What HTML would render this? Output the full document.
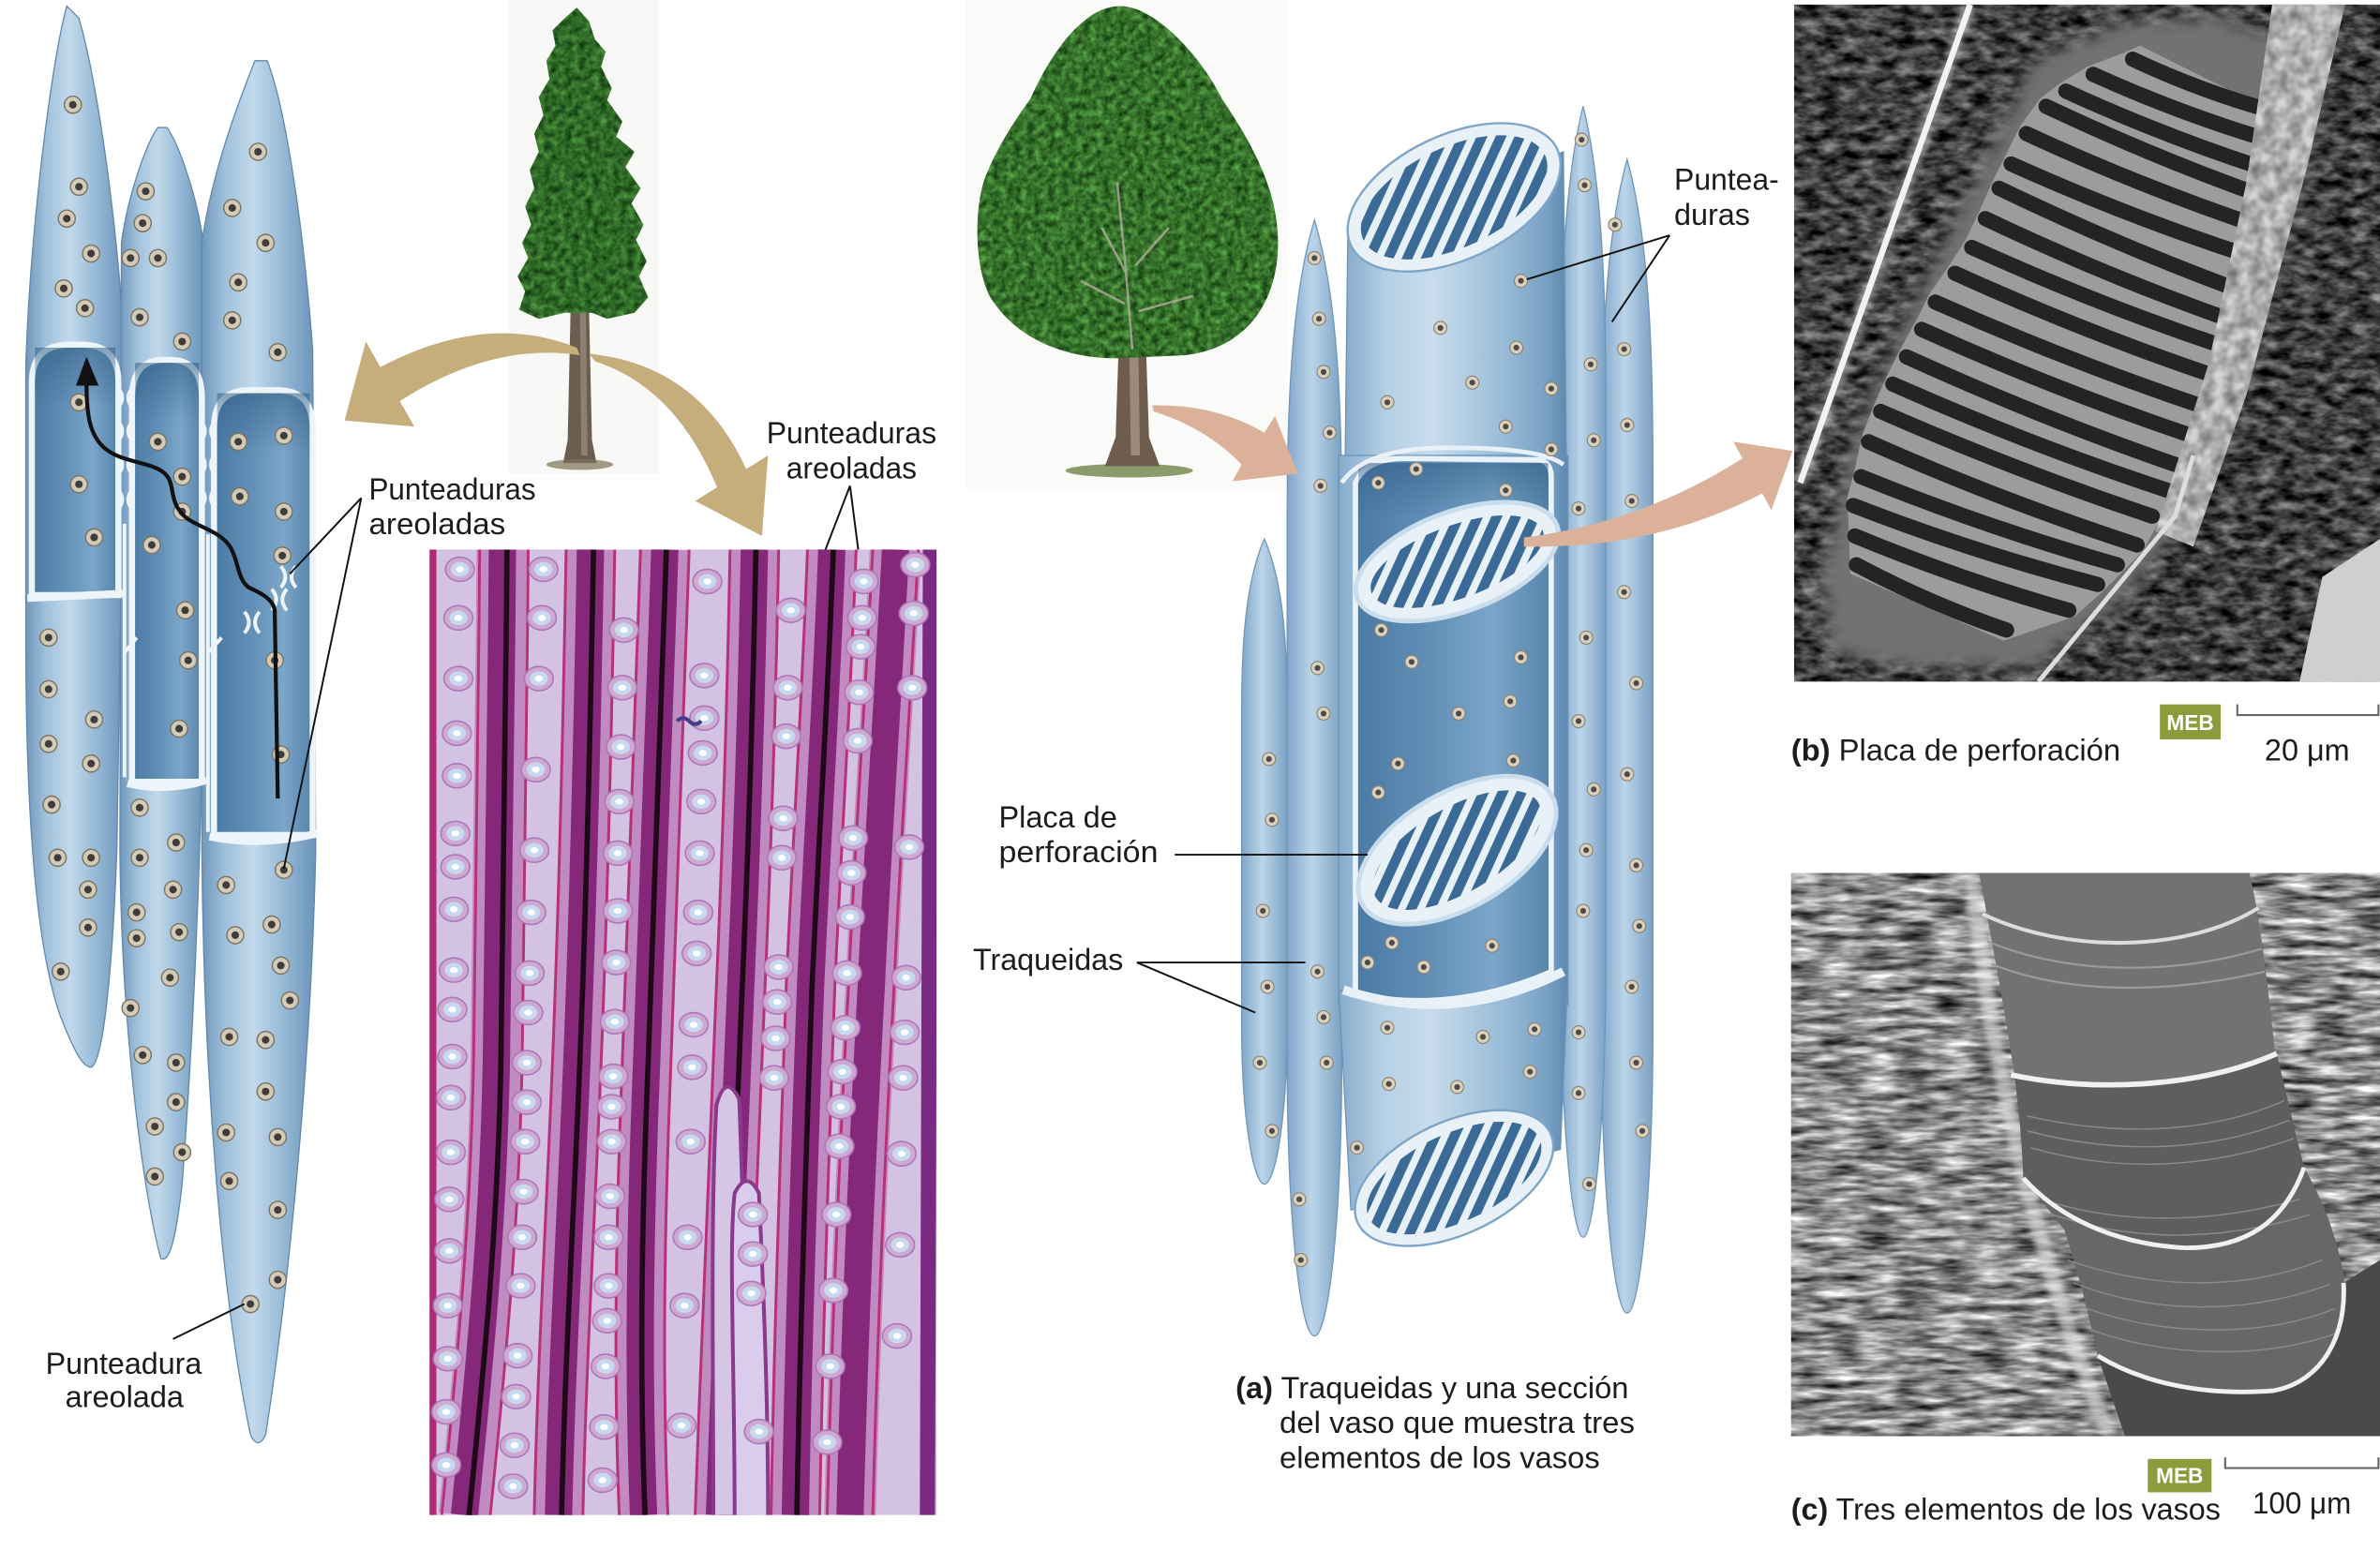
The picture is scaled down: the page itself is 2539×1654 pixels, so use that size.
<!DOCTYPE html>
<html><head><meta charset="utf-8"><title>Traqueidas y elementos de los vasos</title>
<style>html,body{margin:0;padding:0;background:#fff}svg{display:block}text{font-family:"Liberation Sans",Arial,sans-serif;fill:#1c1c1c}</style></head>
<body>
<svg xmlns="http://www.w3.org/2000/svg" width="2539" height="1654" viewBox="0 0 1568 1021" preserveAspectRatio="none">
<defs>
<linearGradient id="cellG" x1="0" x2="1" y1="0" y2="0"><stop offset="0" stop-color="#6f96bb"/><stop offset=".2" stop-color="#9fc0da"/><stop offset=".45" stop-color="#c2d9eb"/><stop offset=".7" stop-color="#98bbd7"/><stop offset="1" stop-color="#6a93b9"/></linearGradient>
<linearGradient id="winG" x1="0" x2="1" y1="0" y2="0"><stop offset="0" stop-color="#4a7aa3"/><stop offset=".35" stop-color="#5f8db5"/><stop offset=".7" stop-color="#7ba6c9"/><stop offset="1" stop-color="#5683ab"/></linearGradient>
<linearGradient id="tubeG" x1="0" x2="1" y1="0" y2="0"><stop offset="0" stop-color="#86abcb"/><stop offset=".18" stop-color="#b4cfe4"/><stop offset=".4" stop-color="#c8dcec"/><stop offset=".7" stop-color="#9bbdd8"/><stop offset=".9" stop-color="#7aa2c5"/><stop offset="1" stop-color="#5e89b0"/></linearGradient>
<linearGradient id="trG" x1="0" x2="1" y1="0" y2="0"><stop offset="0" stop-color="#80a6c8"/><stop offset=".45" stop-color="#bcd5e9"/><stop offset="1" stop-color="#7aa1c4"/></linearGradient>
<linearGradient id="shadeV" x1="0" x2="0" y1="0" y2="1"><stop offset="0" stop-color="#2d5a82" stop-opacity=".55"/><stop offset="1" stop-color="#2d5a82" stop-opacity="0"/></linearGradient>
<filter id="leafTex" color-interpolation-filters="sRGB"><feTurbulence type="fractalNoise" baseFrequency="0.22" numOctaves="3" seed="4"/><feColorMatrix type="matrix" values="0.55 0 0 0 -0.04  0.85 0 0 0 0.04  0.45 0 0 0 -0.04  0 0 0 0 1"/></filter>
<filter id="semTex" color-interpolation-filters="sRGB"><feTurbulence type="fractalNoise" baseFrequency="0.08 0.16" numOctaves="3" seed="7"/><feColorMatrix type="matrix" values="0.9 0 0 0 -0.2  0.9 0 0 0 -0.2  0.9 0 0 0 -0.2  0 0 0 0 1"/></filter>
<filter id="semTexL" color-interpolation-filters="sRGB"><feTurbulence type="fractalNoise" baseFrequency="0.12" numOctaves="2" seed="9" result="t"/><feColorMatrix in="t" type="matrix" values="1.2 0 0 0 0.1  1.2 0 0 0 0.1  1.2 0 0 0 0.1  0 0 0 0 1" result="g"/><feComposite in="g" in2="SourceGraphic" operator="in"/></filter>
<filter id="semTexC" color-interpolation-filters="sRGB"><feTurbulence type="fractalNoise" baseFrequency="0.04 0.2" numOctaves="3" seed="11"/><feColorMatrix type="matrix" values="1.3 0 0 0 -0.1  1.3 0 0 0 -0.1  1.3 0 0 0 -0.1  0 0 0 0 1"/></filter>
<filter id="blur6" x="-20%" y="-20%" width="140%" height="140%"><feGaussianBlur stdDeviation="6"/></filter>
<filter id="blur2" x="-20%" y="-20%" width="140%" height="140%"><feGaussianBlur stdDeviation="2"/></filter>
<clipPath id="clipM"><rect x="283" y="362" width="334" height="636"/></clipPath>
<clipPath id="clipB"><rect x="1182" y="3" width="386" height="446"/></clipPath>
<clipPath id="clipC"><rect x="1180" y="575" width="388" height="371"/></clipPath>
<clipPath id="clipCrown">
<path d="M738,4 C760,4 790,35 805,65 C825,95 842,125 842,160 C842,200 820,230 780,234 L735,236 C700,236 668,222 652,195 C642,175 642,140 648,120 C655,100 668,80 679,65 C690,40 712,4 738,4 Z"/>
</clipPath>
<clipPath id="clipCon"><path d="M380,5 L388,14 L392,26 L399,34 L396,44 L403,58 L400,66 L410,80 L406,90 L418,100 L412,110 L422,124 L416,134 L424,148 L419,158 L426,172 L421,182 L427,196 L418,206 L400,210 L390,206 L372,206 L355,210 L342,204 L346,192 L341,182 L348,170 L344,160 L350,148 L346,136 L352,124 L349,112 L355,100 L352,88 L358,76 L355,64 L362,52 L360,40 L366,30 L364,20 L372,12 Z"/></clipPath>
<clipPath id="c1"><ellipse rx="66" ry="33" transform="rotate(-25)"/></clipPath>
<clipPath id="c2"><ellipse rx="60" ry="24" transform="rotate(-20)"/></clipPath>
<clipPath id="c3"><ellipse rx="62" ry="28" transform="rotate(-30)"/></clipPath>
<clipPath id="c4"><ellipse rx="62" ry="29" transform="rotate(-25)"/></clipPath>
<g id="pit"><circle r="4.3" fill="#d9d1c0" stroke="#8c826f" stroke-width=".7"/><circle r="1.9" fill="#4e4a46"/></g>
<g id="pitL"><circle r="5.6" fill="#d3cbb9" stroke="#7d7462" stroke-width=".9"/><circle r="2.5" fill="#403c38"/></g>
<g id="mp"><ellipse rx="9.5" ry="8" fill="#cfa9d2" stroke="#a979b8" stroke-width="1"/><ellipse rx="6" ry="4.8" fill="#c6d9ee"/><ellipse rx="2.6" ry="2" fill="#ffffff"/></g>
<g id="slots" stroke="#3a6a95" stroke-width="6.5" stroke-linecap="round">
<line x1="-109.5" y1="48" x2="-65.5" y2="-48"/><line x1="-97" y1="48" x2="-53" y2="-48"/><line x1="-84.5" y1="48" x2="-40.5" y2="-48"/><line x1="-72" y1="48" x2="-28" y2="-48"/><line x1="-59.5" y1="48" x2="-15.5" y2="-48"/><line x1="-47" y1="48" x2="-3" y2="-48"/><line x1="-34.5" y1="48" x2="9.5" y2="-48"/><line x1="-22" y1="48" x2="22" y2="-48"/><line x1="-9.5" y1="48" x2="34.5" y2="-48"/><line x1="3" y1="48" x2="47" y2="-48"/><line x1="15.5" y1="48" x2="59.5" y2="-48"/><line x1="28" y1="48" x2="72" y2="-48"/><line x1="40.5" y1="48" x2="84.5" y2="-48"/><line x1="53" y1="48" x2="97" y2="-48"/><line x1="65.5" y1="48" x2="109.5" y2="-48"/>
</g>
<g id="bow" fill="none" stroke="#eef5fa" stroke-width="2.4"><path d="M-5,-7 Q1,0 -5,7 M5,-7 Q-1,0 5,7"/></g>
</defs>

<rect width="1568" height="1021" fill="#fff"/>

<!-- ================= LEFT TRACHEIDS ================= -->
<g stroke="#5f88ae" stroke-width=".8">
<path fill="url(#cellG)" d="M44,4 C34,40 20,150 17,240 L17,420 C17,520 22,620 40,670 C48,690 54,703 60,703 C68,700 74,640 77,560 L82,240 C80,170 66,60 52,12 Z"/>
<path fill="url(#cellG)" d="M104,84 C96,95 84,130 80,160 L79,560 C80,680 95,790 106,829 C112,832 116,815 120,780 C126,700 131,600 133,500 L134,160 C130,130 118,95 110,84 Z"/>
<path fill="url(#cellG)" d="M168,40 C160,60 140,110 133,160 L133,560 C134,700 145,850 165,945 C168,952 172,952 175,945 C190,850 205,700 208,560 L206,230 C200,150 188,70 176,40 Z"/>
</g>
<g fill="url(#winG)" stroke="#eef5fa" stroke-width="4">
<path d="M21,392 L21,252 Q21,227 46,227 L54,227 Q78,227 78,252 L78,392 Z"/>
<path d="M87,515 L87,262 Q87,237 108,237 L112,237 Q133,237 133,262 L133,515 Z"/>
<path d="M141,550 L141,282 Q141,257 164,257 L183,257 Q206,257 206,282 L206,550 Z"/>
</g>
<g fill="url(#shadeV)"><rect x="23" y="229" width="53" height="40"/><rect x="89" y="239" width="42" height="40"/><rect x="143" y="259" width="61" height="40"/></g>
<g stroke="#eef5fa" stroke-width="5" fill="none"><path d="M18,394 L81,391"/><path d="M84,516 Q110,522 136,514"/><path d="M138,551 Q172,558 209,549"/></g>
<g stroke="#eef5fa" stroke-width="2.4" fill="none"><path d="M82,345 L82,512"/><path d="M137,352 L137,548"/><path d="M137,430 L146,420"/><path d="M82,430 L90,420"/></g>
<use href="#bow" x="82.5" y="262"/><use href="#bow" x="82.5" y="284"/><use href="#bow" x="82.5" y="306"/><use href="#bow" x="82.5" y="329"/>
<use href="#bow" x="137" y="284"/><use href="#bow" x="137" y="306"/><use href="#bow" x="137" y="328"/>
<use href="#bow" x="190" y="380"/><use href="#bow" x="184" y="395"/><use href="#bow" x="166" y="410"/>
<g>
<use href="#pitL" x="48" y="69"/><use href="#pitL" x="52" y="123"/><use href="#pitL" x="44" y="144"/><use href="#pitL" x="60" y="167"/><use href="#pitL" x="42" y="190"/><use href="#pitL" x="56" y="203"/><use href="#pitL" x="32" y="454"/><use href="#pitL" x="62" y="474"/><use href="#pitL" x="32" y="490"/><use href="#pitL" x="60" y="503"/><use href="#pitL" x="34" y="530"/><use href="#pitL" x="38" y="565"/><use href="#pitL" x="60" y="565"/><use href="#pitL" x="58" y="586"/><use href="#pitL" x="58" y="611"/><use href="#pitL" x="40" y="640"/><use href="#pitL" x="32" y="420"/>
<use href="#pitL" x="96" y="126"/><use href="#pitL" x="94" y="147"/><use href="#pitL" x="86" y="170"/><use href="#pitL" x="104" y="170"/><use href="#pitL" x="92" y="209"/><use href="#pitL" x="120" y="225"/><use href="#pitL" x="92" y="532"/><use href="#pitL" x="116" y="555"/><use href="#pitL" x="92" y="565"/><use href="#pitL" x="114" y="586"/><use href="#pitL" x="90" y="601"/><use href="#pitL" x="90" y="618"/><use href="#pitL" x="118" y="614"/><use href="#pitL" x="112" y="644"/><use href="#pitL" x="86" y="664"/><use href="#pitL" x="94" y="695"/><use href="#pitL" x="116" y="700"/><use href="#pitL" x="116" y="726"/><use href="#pitL" x="102" y="742"/><use href="#pitL" x="120" y="759"/><use href="#pitL" x="102" y="775"/>
<use href="#pitL" x="153" y="137"/><use href="#pitL" x="175" y="160"/><use href="#pitL" x="157" y="186"/><use href="#pitL" x="153" y="211"/><use href="#pitL" x="183" y="232"/><use href="#pitL" x="170" y="100"/><use href="#pitL" x="187" y="573"/><use href="#pitL" x="149" y="583"/><use href="#pitL" x="179" y="609"/><use href="#pitL" x="155" y="616"/><use href="#pitL" x="185" y="636"/><use href="#pitL" x="191" y="659"/><use href="#pitL" x="151" y="683"/><use href="#pitL" x="175" y="685"/><use href="#pitL" x="175" y="719"/><use href="#pitL" x="149" y="746"/><use href="#pitL" x="183" y="749"/><use href="#pitL" x="151" y="778"/><use href="#pitL" x="183" y="797"/><use href="#pitL" x="183" y="843"/><use href="#pitL" x="165" y="859"/>
<use href="#pitL" x="52" y="265"/><use href="#pitL" x="52" y="319"/><use href="#pitL" x="62" y="354"/>
<use href="#pitL" x="104" y="291"/><use href="#pitL" x="120" y="314"/><use href="#pitL" x="120" y="337"/><use href="#pitL" x="100" y="359"/><use href="#pitL" x="122" y="402"/><use href="#pitL" x="124" y="435"/><use href="#pitL" x="118" y="480"/>
<use href="#pitL" x="157" y="291"/><use href="#pitL" x="187" y="287"/><use href="#pitL" x="158" y="327"/><use href="#pitL" x="187" y="337"/><use href="#pitL" x="186" y="366"/><use href="#pitL" x="181" y="435"/><use href="#pitL" x="185" y="497"/>
</g>
<path d="M183,526 L181,402 C180,394 170,390 164,387 C156,382 157,366 150,358 C142,348 124,346 118,336 C111,326 116,316 106,310 C96,304 80,304 70,296 C58,287 57,270 57,252" fill="none" stroke="#111" stroke-width="2.6"/>
<polygon points="57,235 50,254 65,254" fill="#111"/>

<!-- ================= CONIFER ================= -->
<rect x="335" y="0" width="99" height="312" fill="#f8f8f6"/>
<polygon points="376,200 388,200 390,290 393,305 371,305 374,290" fill="#6b5e50"/>
<polygon points="382,200 386,200 387,300 383,300" fill="#8d8070"/>
<ellipse cx="382" cy="306" rx="22" ry="3.5" fill="#7a7055" opacity=".7"/>
<rect x="335" y="0" width="99" height="215" filter="url(#leafTex)" clip-path="url(#clipCon)"/>
<rect x="335" y="0" width="99" height="215" fill="#1a4f1a" opacity=".35" clip-path="url(#clipCon)"/>

<!-- tan arrows -->
<path d="M250.6,241.8 Q320,205 380,229 L382,234 Q325,225 263.4,264.2 L273,281 L227,277 L241,225 Z" fill="#c5ae7c"/>
<path d="M388,233 Q460,240 491.6,309 L506,300 L502,353 L458,330 L472.4,321 Q445,255 392,238 Z" fill="#c5ae7c"/>

<text x="243" y="329" font-size="20" textLength="110" lengthAdjust="spacingAndGlyphs">Punteaduras</text>
<text x="243" y="352" font-size="20" textLength="90" lengthAdjust="spacingAndGlyphs">areoladas</text>
<text x="505" y="292" font-size="20" textLength="112" lengthAdjust="spacingAndGlyphs">Punteaduras</text>
<text x="518" y="315" font-size="20" textLength="86" lengthAdjust="spacingAndGlyphs">areoladas</text>
<g stroke="#111" stroke-width="1.2" fill="none">
<path d="M238,328 L191,378 M238,328 L187,572"/>
<path d="M560,320 L530,398 M560,320 L568,382"/>
<path d="M114,882 L161,859"/>
</g>
<text x="30" y="905" font-size="20" textLength="103" lengthAdjust="spacingAndGlyphs">Punteadura</text>
<text x="43" y="927" font-size="20" textLength="78" lengthAdjust="spacingAndGlyphs">areolada</text>

<!-- ================= MICROGRAPH ================= -->
<g clip-path="url(#clipM)">
<rect x="283" y="362" width="334" height="636" fill="#d3c2e2"/>
<g fill="none" stroke-linecap="butt">
<g stroke="#b25fa6" stroke-width="34" opacity=".55">
<path d="M331,362 C330,500 328,650 327,700 C325,800 318,880 306,998"/><path d="M389,362 C387,480 384,600 380,700 C376,800 370,900 368,998"/><path d="M438,362 C434,480 430,600 426,700 C422,800 420,900 424,998"/><path d="M497,362 C495,470 492,560 488,650 C484,760 478,880 474,998"/><path d="M548,362 C545,450 538,560 534,650 C530,760 526,880 524,998"/><path d="M590,362 C585,460 578,560 574,650 C568,760 563,880 560,998"/>
</g>
<g stroke="#86287a" stroke-width="18">
<path d="M331,362 C330,500 328,650 327,700 C325,800 318,880 306,998"/><path d="M389,362 C387,480 384,600 380,700 C376,800 370,900 368,998"/><path d="M438,362 C434,480 430,600 426,700 C422,800 420,900 424,998"/><path d="M497,362 C495,470 492,560 488,650 C484,760 478,880 474,998"/><path d="M548,362 C545,450 538,560 534,650 C530,760 526,880 524,998"/><path d="M590,362 C585,460 578,560 574,650 C568,760 563,880 560,998"/>
</g>
<g stroke="#1c0a16" stroke-width="3.5">
<path d="M334,362 C333,500 331,650 330,700 C328,800 321,880 309,998"/><path d="M391,362 C389,480 386,600 382,700 C378,800 372,900 370,998"/><path d="M439,362 C435,480 431,600 427,700 C423,800 421,900 425,998"/><path d="M498,362 C496,470 493,560 489,650 C485,760 479,880 475,998"/><path d="M549,362 C546,450 539,560 535,650 C531,760 527,880 525,998"/>
</g>
<g stroke="#b8307a" stroke-width="1.8">
<path d="M316,362 C315,500 313,650 312,700 C310,800 303,880 291,998"/><path d="M348,362 C347,500 345,650 344,700 C342,800 335,880 323,998"/><path d="M373,362 C371,480 368,600 364,700 C360,800 354,900 352,998"/><path d="M405,362 C403,480 400,600 396,700 C392,800 386,900 384,998"/><path d="M422,362 C418,480 414,600 410,700 C406,800 404,900 408,998"/><path d="M454,362 C450,480 446,600 442,700 C438,800 436,900 440,998"/><path d="M481,362 C479,470 476,560 472,650 C468,760 462,880 458,998"/><path d="M513,362 C511,470 508,560 504,650 C500,760 494,880 490,998"/><path d="M532,362 C529,450 522,560 518,650 C514,760 510,880 508,998"/><path d="M564,362 C561,450 554,560 550,650 C546,760 542,880 540,998"/><path d="M575,362 C570,460 563,560 559,650 C553,760 548,880 545,998"/><path d="M605,362 C600,460 593,560 589,650 C583,760 578,880 575,998"/>
</g>
<path d="M285,362 L285,998" stroke="#b02a70" stroke-width="5"/>
<path d="M613,362 L611,998" stroke="#7a2a80" stroke-width="10"/>
<path d="M470,998 C470,900 468,800 472,728 Q478,706 487,724 C490,800 492,900 494,998" stroke="#8a3a8a" stroke-width="2.5" fill="#d6c6e6"/>
<path d="M484,998 C484,900 480,820 484,786 Q492,770 500,786 C503,850 506,920 506,998" stroke="#8a3a8a" stroke-width="2.5" fill="#dacced"/>
</g>
<use href="#mp" x="303" y="375"/><use href="#mp" x="302" y="407"/><use href="#mp" x="302" y="447"/><use href="#mp" x="301" y="483"/><use href="#mp" x="301" y="511"/><use href="#mp" x="300" y="549"/><use href="#mp" x="300" y="571"/><use href="#mp" x="299" y="599"/><use href="#mp" x="299" y="639"/><use href="#mp" x="298" y="665"/><use href="#mp" x="298" y="696"/><use href="#mp" x="297" y="723"/><use href="#mp" x="297" y="759"/><use href="#mp" x="296" y="790"/><use href="#mp" x="296" y="824"/><use href="#mp" x="295" y="860"/><use href="#mp" x="295" y="895"/><use href="#mp" x="294" y="930"/><use href="#mp" x="294" y="965"/>
<use href="#mp" x="358" y="375"/><use href="#mp" x="357" y="407"/><use href="#mp" x="355" y="447"/><use href="#mp" x="353" y="507"/><use href="#mp" x="352" y="560"/><use href="#mp" x="350" y="601"/><use href="#mp" x="349" y="641"/><use href="#mp" x="348" y="667"/><use href="#mp" x="347" y="700"/><use href="#mp" x="347" y="726"/><use href="#mp" x="346" y="752"/><use href="#mp" x="345" y="785"/><use href="#mp" x="344" y="815"/><use href="#mp" x="343" y="847"/><use href="#mp" x="341" y="893"/><use href="#mp" x="340" y="920"/><use href="#mp" x="339" y="952"/><use href="#mp" x="338" y="979"/>
<use href="#mp" x="411" y="415"/><use href="#mp" x="410" y="453"/><use href="#mp" x="409" y="492"/><use href="#mp" x="408" y="528"/><use href="#mp" x="407" y="562"/><use href="#mp" x="407" y="600"/><use href="#mp" x="406" y="634"/><use href="#mp" x="405" y="673"/><use href="#mp" x="404" y="709"/><use href="#mp" x="403" y="729"/><use href="#mp" x="403" y="752"/><use href="#mp" x="402" y="788"/><use href="#mp" x="401" y="815"/><use href="#mp" x="401" y="847"/><use href="#mp" x="400" y="870"/><use href="#mp" x="399" y="900"/><use href="#mp" x="398" y="940"/><use href="#mp" x="397" y="975"/>
<use href="#mp" x="466" y="383"/><use href="#mp" x="464" y="445"/><use href="#mp" x="464" y="473"/><use href="#mp" x="463" y="496"/><use href="#mp" x="462" y="528"/><use href="#mp" x="461" y="562"/><use href="#mp" x="460" y="601"/><use href="#mp" x="459" y="628"/><use href="#mp" x="457" y="675"/><use href="#mp" x="456" y="703"/><use href="#mp" x="455" y="752"/><use href="#mp" x="453" y="815"/><use href="#mp" x="451" y="860"/><use href="#mp" x="449" y="939"/>
<use href="#mp" x="521" y="402"/><use href="#mp" x="519" y="453"/><use href="#mp" x="518" y="485"/><use href="#mp" x="516" y="539"/><use href="#mp" x="515" y="565"/><use href="#mp" x="513" y="637"/><use href="#mp" x="512" y="660"/><use href="#mp" x="511" y="684"/><use href="#mp" x="510" y="710"/><use href="#mp" x="496" y="800"/><use href="#mp" x="496" y="826"/><use href="#mp" x="495" y="852"/><use href="#mp" x="500" y="943"/>
<use href="#mp" x="569" y="383"/><use href="#mp" x="568" y="407"/><use href="#mp" x="567" y="426"/><use href="#mp" x="566" y="456"/><use href="#mp" x="565" y="488"/><use href="#mp" x="562" y="552"/><use href="#mp" x="561" y="575"/><use href="#mp" x="560" y="604"/><use href="#mp" x="558" y="641"/><use href="#mp" x="557" y="677"/><use href="#mp" x="555" y="706"/><use href="#mp" x="554" y="729"/><use href="#mp" x="553" y="755"/><use href="#mp" x="551" y="800"/><use href="#mp" x="549" y="850"/><use href="#mp" x="547" y="900"/><use href="#mp" x="545" y="950"/>
<use href="#mp" x="603" y="372"/><use href="#mp" x="602" y="404"/><use href="#mp" x="601" y="453"/><use href="#mp" x="599" y="558"/><use href="#mp" x="597" y="644"/><use href="#mp" x="596" y="680"/><use href="#mp" x="595" y="710"/><use href="#mp" x="594" y="760"/><use href="#mp" x="593" y="820"/><use href="#mp" x="591" y="880"/>
<path d="M446,475 q4,-4 8,0 q4,4 8,0" stroke="#4a3a8a" stroke-width="2.5" fill="none"/>
</g>

<!-- ================= DECIDUOUS TREE ================= -->
<rect x="636" y="0" width="212" height="322" fill="#fafaf8"/>
<ellipse cx="744" cy="310" rx="42" ry="4.5" fill="#8c9b6c"/>
<polygon points="737,228 755,228 757,288 764,307 728,307 735,288" fill="#6e5d4c"/>
<polygon points="744,228 750,228 751,300 745,300" fill="#9a8a78"/>
<rect x="636" y="0" width="214" height="245" filter="url(#leafTex)" clip-path="url(#clipCrown)"/>
<rect x="636" y="0" width="214" height="245" fill="#23601f" opacity=".25" clip-path="url(#clipCrown)"/>
<g stroke="#b8b2a2" stroke-width="1.6" fill="none" opacity=".75"><path d="M746,230 L741,170 L736,120"/><path d="M742,180 L726,150"/><path d="M748,175 L770,150"/><path d="M741,200 L712,185"/><path d="M750,205 L786,195"/></g>

<!-- ================= VESSEL ILLUSTRATION ================= -->
<g stroke="#6e96ba" stroke-width=".8">
<path fill="url(#trG)" d="M833,355 C848,389 848,440 848,483 L848,674 C848,738 840,780 833,780 C826,780 818,738 818,674 L818,483 C818,440 818,389 833,355 Z"/>
<path fill="url(#trG)" d="M866,145 C884,204 884,292 884,365 L884,696 C884,806 875,880 866,880 C857,880 848,806 848,696 L848,365 C848,292 848,204 866,145 Z"/>
<path fill="url(#trG)" d="M1072,105 C1089,166 1089,257 1089,333 L1089,675 C1089,789 1080,865 1072,865 C1064,865 1055,789 1055,675 L1055,333 C1055,257 1055,166 1072,105 Z"/>
<path fill="url(#trG)" d="M1043,70 C1058,130 1058,219 1058,294 L1058,629 C1058,741 1050,815 1043,815 C1036,815 1028,741 1028,629 L1028,294 C1028,219 1028,130 1043,70 Z"/>
</g>
<path d="M888,152 L886,322 Q958,296 1032,310 L1030,100 Z" fill="url(#tubeG)" stroke="#6a93b8" stroke-width=".8"/>
<rect x="882" y="300" width="151" height="362" fill="url(#tubeG)" stroke="#6a93b8" stroke-width=".8"/>
<path d="M893,318 Q900,302 925,302 L1015,303 Q1022,305 1022,315 L1022,640 Q958,668 893,655 Z" fill="url(#winG)" stroke="#eaf3f9" stroke-width="3.5"/>
<rect x="895" y="305" width="125" height="36" fill="url(#shadeV)"/>
<path d="M882,652 Q958,676 1033,642 L1028,757 L890,797 Z" fill="url(#tubeG)" stroke="#6a93b8" stroke-width=".8"/>
<path d="M885,652 Q958,676 1030,640" stroke="#e8f1f8" stroke-width="6" fill="none"/>
<path d="M884,318 Q900,294 958,295 Q1015,295 1030,306" stroke="#e8f1f8" stroke-width="3" fill="none"/>
<g transform="translate(958,130)"><ellipse rx="75" ry="41" transform="rotate(-25)" fill="#e8f1f8" stroke="#7fa6c8" stroke-width="1.5"/><g clip-path="url(#c1)"><use href="#slots"/></g></g>
<g transform="translate(960,370)"><ellipse rx="70" ry="33" transform="rotate(-20)" fill="#e8f1f8" stroke="#c9ddec" stroke-width="3"/><g clip-path="url(#c2)"><use href="#slots"/></g></g>
<g transform="translate(960,560)"><ellipse rx="72" ry="38" transform="rotate(-30)" fill="#e8f1f8" stroke="#c9ddec" stroke-width="3"/><g clip-path="url(#c3)"><use href="#slots"/></g></g>
<g transform="translate(958,776)"><ellipse rx="70" ry="37" transform="rotate(-25)" fill="#e8f1f8" stroke="#7fa6c8" stroke-width="1.5"/><g clip-path="url(#c4)"><use href="#slots"/></g></g>
<g>
<use href="#pit" x="1002" y="185"/><use href="#pit" x="949" y="216"/><use href="#pit" x="999" y="229"/><use href="#pit" x="970" y="252"/><use href="#pit" x="914" y="265"/><use href="#pit" x="1022" y="256"/><use href="#pit" x="992" y="281"/><use href="#pit" x="1022" y="296"/>
<use href="#pit" x="908" y="318"/><use href="#pit" x="933" y="309"/><use href="#pit" x="992" y="323"/>
<use href="#pit" x="910" y="415"/><use href="#pit" x="930" y="436"/><use href="#pit" x="1002" y="433"/><use href="#pit" x="961" y="470"/><use href="#pit" x="995" y="462"/><use href="#pit" x="921" y="503"/><use href="#pit" x="997" y="501"/>
<use href="#pit" x="908" y="522"/><use href="#pit" x="917" y="621"/><use href="#pit" x="983" y="623"/><use href="#pit" x="901" y="634"/><use href="#pit" x="938" y="637"/>
<use href="#pit" x="914" y="677"/><use href="#pit" x="977" y="683"/><use href="#pit" x="1011" y="678"/><use href="#pit" x="915" y="714"/><use href="#pit" x="960" y="716"/><use href="#pit" x="1008" y="706"/><use href="#pit" x="894" y="756"/>
<use href="#pit" x="866" y="170"/><use href="#pit" x="869" y="210"/><use href="#pit" x="872" y="245"/><use href="#pit" x="876" y="285"/><use href="#pit" x="870" y="320"/><use href="#pit" x="868" y="440"/><use href="#pit" x="872" y="470"/><use href="#pit" x="868" y="640"/><use href="#pit" x="872" y="670"/><use href="#pit" x="874" y="700"/><use href="#pit" x="856" y="790"/><use href="#pit" x="857" y="830"/>
<use href="#pit" x="1042" y="92"/><use href="#pit" x="1044" y="122"/><use href="#pit" x="1048" y="240"/><use href="#pit" x="1050" y="290"/><use href="#pit" x="1040" y="335"/><use href="#pit" x="1045" y="420"/><use href="#pit" x="1040" y="475"/><use href="#pit" x="1050" y="520"/><use href="#pit" x="1045" y="560"/><use href="#pit" x="1043" y="600"/><use href="#pit" x="1040" y="680"/><use href="#pit" x="1040" y="720"/><use href="#pit" x="1047" y="780"/>
<use href="#pit" x="1064" y="148"/><use href="#pit" x="1070" y="230"/><use href="#pit" x="1072" y="280"/><use href="#pit" x="1075" y="330"/><use href="#pit" x="1070" y="390"/><use href="#pit" x="1078" y="450"/><use href="#pit" x="1072" y="510"/><use href="#pit" x="1078" y="570"/><use href="#pit" x="1080" y="610"/><use href="#pit" x="1075" y="650"/><use href="#pit" x="1078" y="700"/><use href="#pit" x="1082" y="745"/>
<use href="#pit" x="836" y="500"/><use href="#pit" x="838" y="540"/><use href="#pit" x="832" y="600"/><use href="#pit" x="835" y="650"/><use href="#pit" x="830" y="700"/><use href="#pit" x="838" y="745"/>
</g>

<!-- pink arrows (on top of vessel) -->
<path d="M759,267 Q800,266 833,285 L840,274 L855,312 L812,317 L818,306 Q795,282 760,271 Z" fill="#dbb19a"/>
<path d="M1004,354 Q1080,345 1148,302 L1142,291 L1181,297 L1167,336 L1161,325 Q1090,362 1004,360 Z" fill="#dbb19a"/>

<text x="1103" y="125" font-size="20" textLength="69" lengthAdjust="spacingAndGlyphs">Puntea-</text>
<text x="1103" y="148" font-size="20" textLength="50" lengthAdjust="spacingAndGlyphs">duras</text>
<text x="658" y="545" font-size="20" textLength="78" lengthAdjust="spacingAndGlyphs">Placa de</text>
<text x="658" y="568" font-size="20" textLength="105" lengthAdjust="spacingAndGlyphs">perforación</text>
<text x="641" y="639" font-size="20" textLength="99" lengthAdjust="spacingAndGlyphs">Traqueidas</text>
<g stroke="#111" stroke-width="1.2" fill="none">
<path d="M1100,155 L1006,184 M1100,155 L1062,212"/>
<path d="M774,563 L901,563"/>
<path d="M749,634 L860,634 M749,634 L827,667"/>
</g>
<text x="814" y="921" font-size="20" textLength="259" lengthAdjust="spacingAndGlyphs"><tspan font-weight="bold">(a)</tspan> Traqueidas y una sección</text>
<text x="843" y="944" font-size="20" textLength="234" lengthAdjust="spacingAndGlyphs">del vaso que muestra tres</text>
<text x="843" y="967" font-size="20" textLength="211" lengthAdjust="spacingAndGlyphs">elementos de los vasos</text>

<!-- ================= SEM (b) ================= -->
<g clip-path="url(#clipB)">
<rect x="1182" y="3" width="386" height="446" filter="url(#semTex)"/>
<polygon points="1395,15 1340,40 1300,120 1260,200 1220,290 1200,380 1205,430 1250,440 1340,440 1400,395 1440,340 1480,240 1510,140 1525,70 1515,30 1460,10" fill="#727272" filter="url(#blur6)"/>
<polygon points="1401,34 1375,44 1357,55 1344,65 1331,83 1321,103 1313,119 1304,139 1295,158 1284,175 1271,194 1262,212 1252,230 1243,248 1235,266 1227,286 1222,309 1217,328 1218,350 1219,378 1320,422 1367,406 1386,389 1399,376 1412,363 1422,344 1432,327 1440,311 1448,291 1456,272 1464,252 1471,233 1477,216 1484,197 1490,174 1495,154 1500,135 1505,118 1508,99 1508,79 1410,30" fill="#9c9c9c"/>
<g fill="none" stroke="#242424" stroke-width="10" stroke-linecap="round">
<path d="M1405,39 Q1454,62 1504,75"/><path d="M1379,49 Q1441,77 1504,95"/><path d="M1361,60 Q1431,92 1501,114"/><path d="M1348,70 Q1422,105 1496,131"/><path d="M1335,88 Q1413,124 1491,150"/><path d="M1325,108 Q1405,144 1486,170"/><path d="M1317,124 Q1398,163 1480,193"/><path d="M1308,144 Q1390,183 1473,212"/><path d="M1299,163 Q1383,201 1467,229"/><path d="M1288,180 Q1374,219 1460,248"/><path d="M1275,199 Q1363,238 1452,268"/><path d="M1266,217 Q1355,257 1444,287"/><path d="M1256,235 Q1346,276 1436,307"/><path d="M1247,253 Q1337,293 1428,323"/><path d="M1239,271 Q1328,310 1418,340"/><path d="M1231,291 Q1319,330 1408,359"/><path d="M1226,314 Q1310,348 1395,372"/><path d="M1221,333 Q1301,364 1382,385"/><path d="M1222,353 Q1292,382 1363,402"/><path d="M1223,372 Q1272,398 1322,415"/>
</g>
<path d="M1186,318 L1298,3" stroke="#ececec" stroke-width="4"/>
<path d="M1186,318 L1298,3" stroke="#ffffff" stroke-width="9" opacity=".35" filter="url(#blur2)"/>
<polygon points="1497,3 1545,3 1520,110 1480,260 1445,360 1420,350 1455,240 1480,120" fill="#aaaaaa"/>
<polygon points="1497,3 1545,3 1520,110 1480,260 1445,360 1420,350 1455,240 1480,120" fill="#fff" filter="url(#semTexL)" opacity=".5"/>
<path d="M1343,449 L1433,340 L1445,300" stroke="#dddddd" stroke-width="3" fill="none"/>
<polygon points="1530,380 1568,355 1568,449 1515,449" fill="#cfcfcf"/>
</g>
<rect x="1423" y="464" width="40" height="23" fill="#8c9b3c"/>
<text x="1443" y="481" font-size="14" font-weight="bold" text-anchor="middle" style="fill:#fff">MEB</text>
<path d="M1474,464 L1474,471 L1567,471 L1567,464" stroke="#666" stroke-width="1.3" fill="none"/>
<text x="1180" y="501" font-size="20" textLength="217" lengthAdjust="spacingAndGlyphs"><tspan font-weight="bold">(b)</tspan> Placa de perforación</text>
<text x="1492" y="501" font-size="20" textLength="56" lengthAdjust="spacingAndGlyphs">20 μm</text>

<!-- ================= SEM (c) ================= -->
<g clip-path="url(#clipC)">
<rect x="1180" y="575" width="388" height="371" filter="url(#semTexC)"/>
<path d="M1300,575 C1305,650 1320,720 1335,780 C1350,840 1370,900 1390,946" stroke="#e6e6e6" stroke-width="10" fill="none" opacity=".6" filter="url(#blur2)"/>
<path d="M1304,575 L1482,575 C1490,610 1494,650 1499,694 C1450,716 1380,718 1327,708 C1322,670 1312,620 1304,575 Z" fill="#727272"/>
<path d="M1306,602 C1360,628 1440,628 1488,598" stroke="#dcdcdc" stroke-width="2.5" fill="none"/>
<path d="M1309,620 C1370,645 1440,640 1490,625 M1312,635 C1370,658 1440,652 1492,640" stroke="#9a9a9a" stroke-width="1.4" fill="none"/>
<path d="M1327,708 C1380,720 1450,716 1500,694 C1506,720 1512,745 1518,769 C1505,805 1480,822 1440,822 C1400,820 1360,806 1333,776 C1332,750 1330,730 1327,708 Z" fill="#5e5e5e"/>
<path d="M1333,776 C1360,806 1400,820 1440,822 C1480,822 1505,805 1518,769 C1530,790 1540,815 1544,840 C1546,880 1530,910 1498,916 C1450,920 1410,910 1382,893 C1375,860 1368,835 1360,810 Z" fill="#676767"/>
<g stroke="#8a8a8a" stroke-width=".9" fill="none">
<path d="M1335,735 C1400,750 1460,745 1505,725"/><path d="M1336,745 C1400,762 1460,757 1508,738"/><path d="M1338,756 C1400,774 1460,768 1511,750"/><path d="M1345,790 C1400,808 1460,805 1515,790"/><path d="M1352,800 C1410,820 1470,816 1522,800"/>
<path d="M1362,830 C1420,850 1480,850 1530,830"/><path d="M1366,845 C1420,866 1480,866 1535,846"/><path d="M1370,860 C1420,880 1490,882 1538,862"/><path d="M1375,875 C1425,894 1490,896 1540,878"/>
</g>
<path d="M1325,708 C1380,720 1450,716 1500,694" stroke="#f0f0f0" stroke-width="3.5" fill="none"/>
<path d="M1333,776 C1360,806 1400,820 1440,822 C1480,822 1505,805 1518,769" stroke="#f0f0f0" stroke-width="3" fill="none"/>
<path d="M1382,893 C1410,910 1450,920 1498,916 C1530,910 1546,880 1544,845 L1568,830 L1568,946 L1400,946 Z" fill="#4a4a4a"/>
<path d="M1382,893 C1410,910 1450,920 1498,916 C1530,910 1546,880 1544,845" stroke="#f0f0f0" stroke-width="3" fill="none"/>
</g>
<rect x="1415" y="961" width="42" height="22" fill="#8c9b3c"/>
<text x="1436" y="977" font-size="14" font-weight="bold" text-anchor="middle" style="fill:#fff">MEB</text>
<path d="M1466,960 L1466,967 L1567,967 L1567,960" stroke="#666" stroke-width="1.3" fill="none"/>
<text x="1180" y="1001" font-size="20" textLength="283" lengthAdjust="spacingAndGlyphs"><tspan font-weight="bold">(c)</tspan> Tres elementos de los vasos</text>
<text x="1484" y="997" font-size="20" textLength="65" lengthAdjust="spacingAndGlyphs">100 μm</text>
</svg>
</body></html>
